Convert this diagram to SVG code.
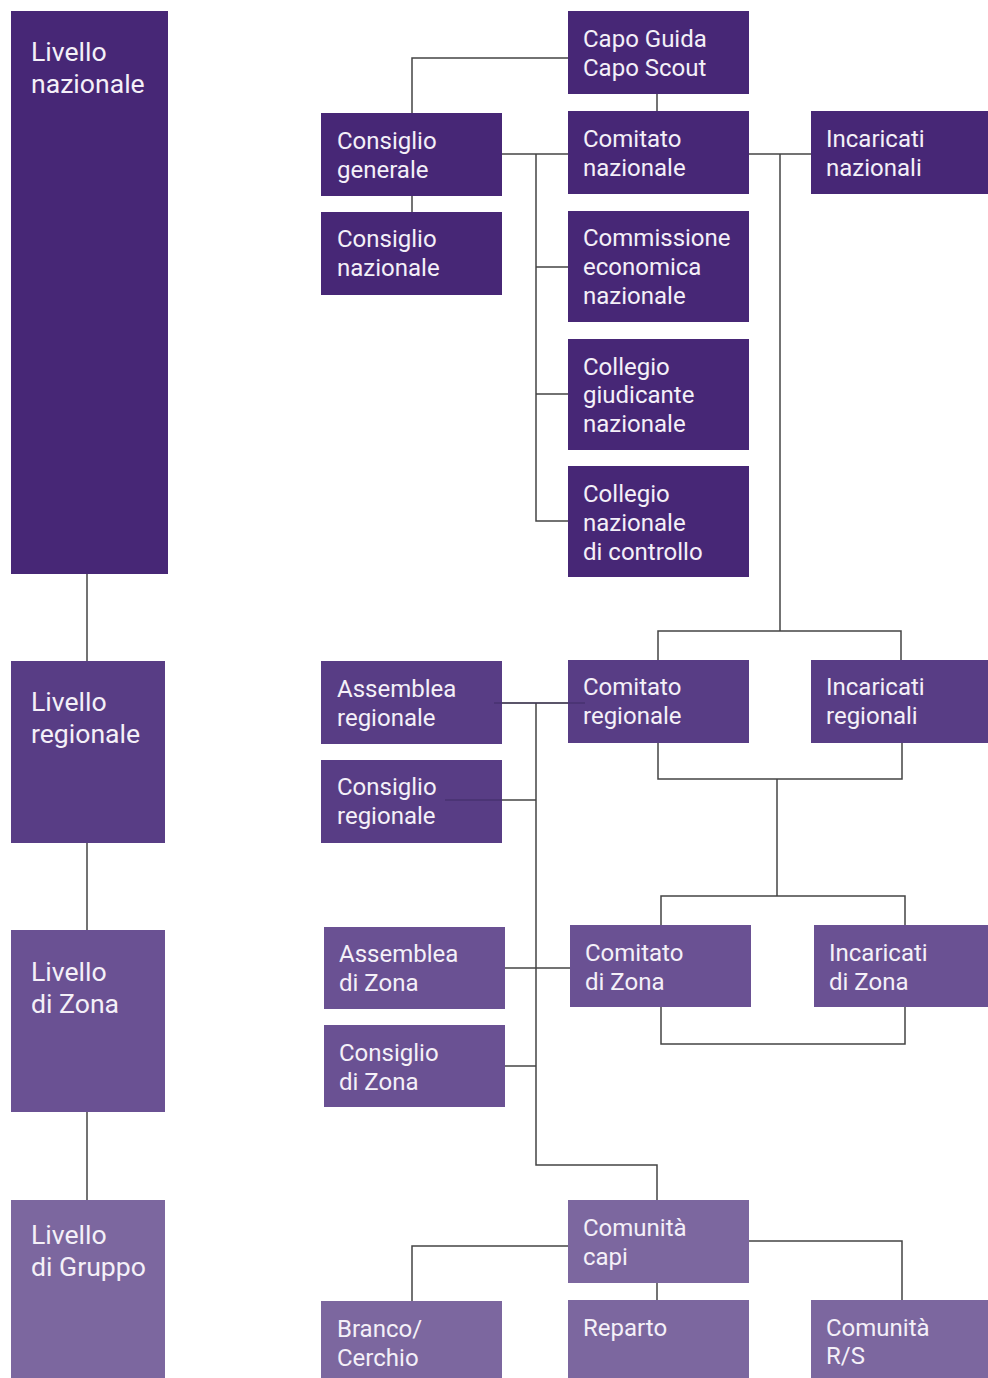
<svg xmlns="http://www.w3.org/2000/svg" width="988" height="1378" viewBox="0 0 988 1378">
<style>
.n1{fill:#472776}.n2{fill:#583d85}.n3{fill:#6a5193}.n4{fill:#7c679f}
text{font-family:Roboto,"Liberation Sans",sans-serif;fill:#f4f0f8}
.lv{font-size:26.6px}.bx{font-size:24px}
.c path,.c line{stroke:#444;stroke-width:1.5;fill:none}
</style>
<rect width="988" height="1378" fill="#fff"/>
<g class="c" id="connectors">
<line x1="87" y1="574" x2="87" y2="661"/>
<line x1="87" y1="843" x2="87" y2="930"/>
<line x1="87" y1="1112" x2="87" y2="1200"/>
<path d="M568 58H412V113"/>
<line x1="657" y1="94" x2="657" y2="111"/>
<line x1="412" y1="196" x2="412" y2="212"/>
<line x1="502" y1="154" x2="568" y2="154"/>
<path d="M536 154V521H568M536 267H568M536 394H568"/>
<line x1="749" y1="154" x2="811" y2="154"/>
<path d="M780 154V631"/>
<path d="M658 660V631H901V660"/>
<line x1="494" y1="703" x2="585" y2="703"/>
<path d="M536 703V1165H657V1200"/>
<line x1="445" y1="800" x2="536" y2="800"/>
<path d="M658 743V779H902V743"/>
<line x1="777" y1="779" x2="777" y2="896"/>
<path d="M661 925V896H905V925"/>
<line x1="505" y1="968" x2="570" y2="968"/>
<line x1="505" y1="1066" x2="536" y2="1066"/>
<path d="M661 1007V1044H905V1007"/>
<path d="M568 1246H412V1301"/>
<line x1="657" y1="1283" x2="657" y2="1300"/>
<path d="M749 1241H902V1300"/>
</g>
<g id="livello-nazionale"><rect class="n1" x="11" y="11" width="157" height="563"/><text class="lv" x="31" y="61">Livello</text><text class="lv" x="31" y="93">nazionale</text></g>
<g id="livello-regionale"><rect class="n2" x="11" y="661" width="154" height="182"/><text class="lv" x="31" y="711">Livello</text><text class="lv" x="31" y="743">regionale</text></g>
<g id="livello-zona"><rect class="n3" x="11" y="930" width="154" height="182"/><text class="lv" x="31" y="981">Livello</text><text class="lv" x="31" y="1013">di Zona</text></g>
<g id="livello-gruppo"><rect class="n4" x="11" y="1200" width="154" height="178"/><text class="lv" x="31" y="1244">Livello</text><text class="lv" x="31" y="1276">di Gruppo</text></g>

<g id="capo"><rect class="n1" x="568" y="11" width="181" height="83"/><text class="bx" x="583" y="47">Capo Guida</text><text class="bx" x="583" y="76">Capo Scout</text></g>
<g id="consiglio-generale"><rect class="n1" x="321" y="113" width="181" height="83"/><text class="bx" x="337" y="149">Consiglio</text><text class="bx" x="337" y="178">generale</text></g>
<g id="comitato-nazionale"><rect class="n1" x="568" y="111" width="181" height="83"/><text class="bx" x="583" y="147">Comitato</text><text class="bx" x="583" y="176">nazionale</text></g>
<g id="incaricati-nazionali"><rect class="n1" x="811" y="111" width="177" height="83"/><text class="bx" x="826" y="147">Incaricati</text><text class="bx" x="826" y="176">nazionali</text></g>
<g id="consiglio-nazionale"><rect class="n1" x="321" y="212" width="181" height="83"/><text class="bx" x="337" y="247">Consiglio</text><text class="bx" x="337" y="276">nazionale</text></g>
<g id="commissione"><rect class="n1" x="568" y="211" width="181" height="111"/><text class="bx" x="583" y="246">Commissione</text><text class="bx" x="583" y="275">economica</text><text class="bx" x="583" y="304">nazionale</text></g>
<g id="collegio-giudicante"><rect class="n1" x="568" y="339" width="181" height="111"/><text class="bx" x="583" y="375">Collegio</text><text class="bx" x="583" y="403">giudicante</text><text class="bx" x="583" y="432">nazionale</text></g>
<g id="collegio-controllo"><rect class="n1" x="568" y="466" width="181" height="111"/><text class="bx" x="583" y="502">Collegio</text><text class="bx" x="583" y="531">nazionale</text><text class="bx" x="583" y="560">di controllo</text></g>

<g id="assemblea-regionale"><rect class="n2" x="321" y="661" width="181" height="83"/><text class="bx" x="337" y="697">Assemblea</text><text class="bx" x="337" y="726">regionale</text></g>
<g id="consiglio-regionale"><rect class="n2" x="321" y="760" width="181" height="83"/><text class="bx" x="337" y="795">Consiglio</text><text class="bx" x="337" y="824">regionale</text></g>
<g id="comitato-regionale"><rect class="n2" x="568" y="660" width="181" height="83"/><text class="bx" x="583" y="695">Comitato</text><text class="bx" x="583" y="724">regionale</text></g>
<g id="incaricati-regionali"><rect class="n2" x="811" y="660" width="177" height="83"/><text class="bx" x="826" y="695">Incaricati</text><text class="bx" x="826" y="724">regionali</text></g>
<line x1="494" y1="703" x2="585" y2="703" stroke="#3a2a60" stroke-width="1.2" opacity="0.8"/>
<line x1="445" y1="800" x2="502" y2="800" stroke="#3a2a60" stroke-width="1.2" opacity="0.8"/>

<g id="assemblea-zona"><rect class="n3" x="324" y="927" width="181" height="82"/><text class="bx" x="339" y="962">Assemblea</text><text class="bx" x="339" y="991">di Zona</text></g>
<g id="consiglio-zona"><rect class="n3" x="324" y="1025" width="181" height="82"/><text class="bx" x="339" y="1061">Consiglio</text><text class="bx" x="339" y="1090">di Zona</text></g>
<g id="comitato-zona"><rect class="n3" x="570" y="925" width="181" height="82"/><text class="bx" x="585" y="961">Comitato</text><text class="bx" x="585" y="990">di Zona</text></g>
<g id="incaricati-zona"><rect class="n3" x="814" y="925" width="174" height="82"/><text class="bx" x="829" y="961">Incaricati</text><text class="bx" x="829" y="990">di Zona</text></g>

<g id="comunita-capi"><rect class="n4" x="568" y="1200" width="181" height="83"/><text class="bx" x="583" y="1236">Comunità</text><text class="bx" x="583" y="1265">capi</text></g>
<g id="branco"><rect class="n4" x="321" y="1301" width="181" height="77"/><text class="bx" x="337" y="1337">Branco/</text><text class="bx" x="337" y="1366">Cerchio</text></g>
<g id="reparto"><rect class="n4" x="568" y="1300" width="181" height="78"/><text class="bx" x="583" y="1336">Reparto</text></g>
<g id="comunita-rs"><rect class="n4" x="811" y="1300" width="177" height="78"/><text class="bx" x="826" y="1336">Comunità</text><text class="bx" x="826" y="1364">R/S</text></g>
</svg>
